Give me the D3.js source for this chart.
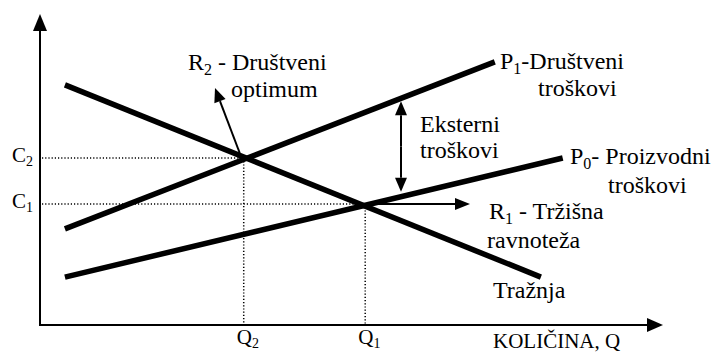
<!DOCTYPE html>
<html>
<head>
<meta charset="utf-8">
<style>
body { margin: 0; background: #fff; }
svg { display: block; }
.curve { fill: none; stroke: #000; stroke-width: 5.5; stroke-linecap: butt; }
.axis { stroke: #000; stroke-width: 2; }
.dot { stroke: #000; stroke-width: 1.5; stroke-dasharray: 1.2,2; }
.arr { stroke: #000; stroke-width: 2; }
</style>
</head>
<body>
<svg id="chart" width="714" height="352"></svg>
<script src="https://d3js.org/d3.v7.min.js"></script>
<script>
// curves: [quantity, price] in chart units (0..100)
let demand = [[4.0, 77.2], [80.4, 15.4]];
let socialCost = [[4.0, 30.9], [73.0, 84.6]];
let prodCost = [[4.0, 15.4], [83.9, 53.7]];

// equilibrium points
let qTicks = ["Q2", "Q1"];
let qValues = [32.7, 52.2];
let cTicks = ["C2", "C1"];
let cValues = [53.7, 38.9];

let svg = d3.select("#chart");
let x = d3.scaleLinear().domain([0, 100]).range([40, 663]);
let y = d3.scaleLinear().domain([0, 100]).range([325, 14]);

let line = d3.line().x(d => x(d[0])).y(d => y(d[1]));

// arrow heads
function head(tip, angle, len, w) {
    let a = angle * Math.PI / 180;
    let bx = tip[0] - len * Math.cos(a), by = tip[1] - len * Math.sin(a);
    let px = -Math.sin(a) * w / 2, py = Math.cos(a) * w / 2;
    svg.append("path")
        .attr("d", "M" + tip[0] + "," + tip[1] + "L" + (bx + px) + "," + (by + py) + "L" + (bx - px) + "," + (by - py) + "Z")
        .attr("fill", "#000");
    return [bx, by];
}

function arrow(from, to, len, w) {
    let ang = Math.atan2(to[1] - from[1], to[0] - from[0]) * 180 / Math.PI;
    let b = head(to, ang, len, w);
    svg.append("line").attr("class", "arr")
        .attr("x1", from[0]).attr("y1", from[1]).attr("x2", b[0]).attr("y2", b[1]);
}

// value of a straight curve at quantity q
function at(c, q) {
    return c[0][1] + (c[1][1] - c[0][1]) * (q - c[0][0]) / (c[1][0] - c[0][0]);
}

// axes
svg.append("line").attr("class", "axis")
    .attr("x1", x(0)).attr("y1", y(0)).attr("x2", x(0)).attr("y2", y(0) - 296);
head([x(0), y(100)], -90, 17, 14);
svg.append("line").attr("class", "axis")
    .attr("x1", x(0) - 1).attr("y1", y(0)).attr("x2", x(100) - 15).attr("y2", y(0));
head([x(100), y(0)], 0, 16, 14);

// dotted guides
qValues.forEach((q, i) => {
    svg.append("line").attr("class", "dot")
        .attr("x1", x(0) + 2).attr("y1", y(cValues[i]))
        .attr("x2", x(q)).attr("y2", y(cValues[i]));
    svg.append("line").attr("class", "dot")
        .attr("x1", x(q)).attr("y1", y(cValues[i]))
        .attr("x2", x(q)).attr("y2", y(0) - 1);
});

// curves
[demand, socialCost, prodCost].forEach(c => {
    svg.append("path").attr("class", "curve").attr("d", line(c));
});

// annotation arrows
let r2 = [x(qValues[0]), y(cValues[0])];
let r1 = [x(qValues[1]), y(cValues[1])];
arrow([r2[0] - 4, r2[1] - 5], [215, 88], 14, 12);
arrow(r1, [470, r1[1]], 15, 12);
let ex = 401;
let exTop = y(at(socialCost, x.invert(ex))) + 3;
let exBot = y(at(prodCost, x.invert(ex))) - 5;
let mid = (exTop + exBot) / 2;
arrow([ex, mid], [ex, exTop], 14, 12);
arrow([ex, mid], [ex, exBot], 14, 12);

// text with subscripts; font set on every tspan
const FONT = "'Liberation Serif'";
function label(px, py, parts, size) {
    size = size || 24;
    let sub = Math.round(size * 0.67), shift = size > 22 ? 5 : 4;
    let t = svg.append("text")
        .style("font-family", FONT)
        .style("font-size", size + "px")
        .attr("fill", "#000")
        .attr("x", px).attr("y", py);
    parts.forEach(p => {
        let s = t.append("tspan")
            .style("font-family", FONT)
            .style("font-size", (p.sub ? sub : size) + "px")
            .text(p.t);
        if (p.sub) s.attr("dy", shift);
        else if (p.after) s.attr("dy", -shift);
    });
}
function withSub(s) {
    return [{t: s[0]}, {t: s.slice(1), sub: true}];
}

label(188, 70, [{t: "R"}, {t: "2", sub: true}, {t: " - Društveni", after: true}]);
label(231, 97, [{t: "optimum"}]);
label(500, 69, [{t: "P"}, {t: "1", sub: true}, {t: "-Društveni", after: true}]);
label(538, 96, [{t: "troškovi"}]);
label(420, 132, [{t: "Eksterni"}]);
label(420, 158, [{t: "troškovi"}]);
label(570, 164, [{t: "P"}, {t: "0", sub: true}, {t: "- Proizvodni", after: true}]);
label(608, 193, [{t: "troškovi"}]);
label(489, 219, [{t: "R"}, {t: "1", sub: true}, {t: " - Tržišna", after: true}]);
label(487, 248, [{t: "ravnoteža"}]);
label(493, 298, [{t: "Tražnja"}]);
label(493, 348, [{t: "KOLIČINA, Q"}], 21);

qTicks.forEach((q, i) => label(x(qValues[i]) - 7, 344, withSub(q), 21));
cTicks.forEach((c, i) => label(12, y(cValues[i]) + 4, withSub(c), 21));
</script>
</body>
</html>
